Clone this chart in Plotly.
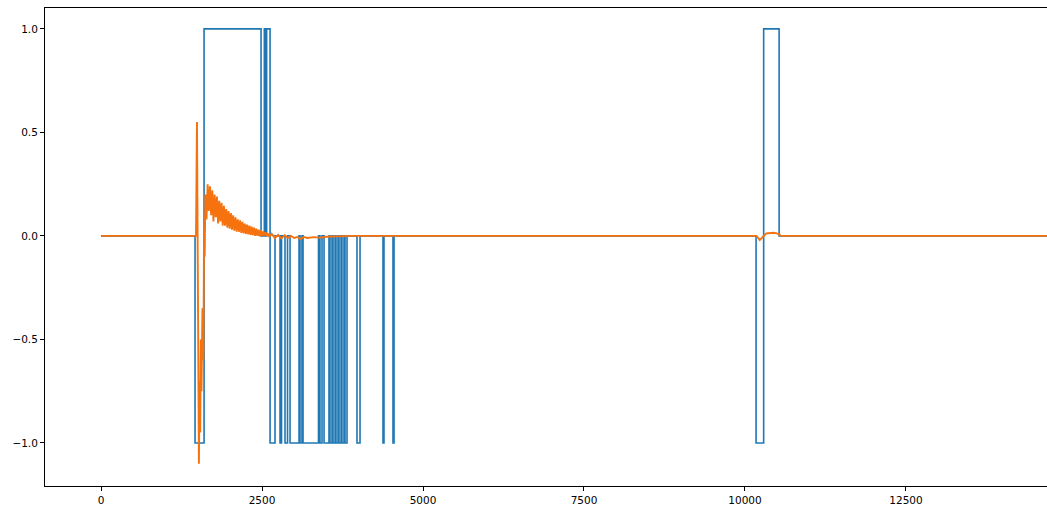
import plotly.graph_objects as go

# ---- data ----
# blue step signal: change points (x) and the level held after each one
blue_change_x = [0, 1460, 1600, 2485, 2536, 2556, 2572, 2625,
                 2702, 2780, 2803, 2857, 2896, 2935, 3075, 3090, 3121, 3137,
                 3377, 3400, 3432, 3463, 3540, 3556, 3587, 3603, 3634, 3649,
                 3680, 3696, 3727, 3742, 3773, 3789, 3820,
                 3975, 4022, 4379, 4394, 4534, 4550,
                 10172, 10290, 10530, 17400]
blue_level = [0, -1, 1, 0, 1, 0, 1, -1,
              0, -1, 0, -1, 0, -1, 0, -1, 0, -1,
              0, -1, 0, -1, 0, -1, 0, -1, 0, -1,
              0, -1, 0, -1, 0, -1, 0,
              -1, 0, -1, 0, -1, 0,
              -1, 1, 0, 0]

# orange response signal
orange_x = [0, 1460, 1475, 1490, 1500, 1510, 1520, 1530, 1540, 1550, 1560,
            1575, 1590, 1600, 1610,
            1620, 1638, 1656, 1674, 1692, 1710, 1728, 1746, 1764, 1782,
            1800, 1818, 1836, 1854, 1872, 1890, 1908, 1926, 1944, 1962,
            1980, 1998, 2016, 2034, 2052, 2070, 2088, 2106, 2124, 2142,
            2160, 2178, 2196, 2214, 2232, 2250, 2268, 2286, 2304, 2322,
            2340, 2358, 2376, 2394, 2412, 2430, 2448, 2466, 2484, 2502,
            2520, 2538, 2556, 2574, 2592, 2610,
            2650, 2700, 2750, 2800, 2850, 2900, 2950, 3000, 3050, 3100,
            3150, 3200, 3300, 3400, 3500, 3600, 3700, 3870,
            10100, 10180, 10230, 10280, 10330, 10450, 10520, 10560, 17400]
orange_y = [0, 0, 0, 0.55, -0.2, -0.8, -1.1, -0.7, -0.95, -0.5, -0.75,
            -0.35, -0.6, 0.05, -0.1,
            0.2, 0.08, 0.25, 0.12, 0.24, 0.10, 0.22, 0.07, 0.20, 0.09,
            0.19, 0.06, 0.17, 0.07, 0.16, 0.05, 0.145, 0.05, 0.13, 0.04,
            0.12, 0.035, 0.11, 0.03, 0.10, 0.025, 0.09, 0.02, 0.08, 0.02,
            0.075, 0.015, 0.068, 0.012, 0.06, 0.01, 0.055, 0.008, 0.05, 0.005,
            0.045, 0.004, 0.04, 0.0, 0.035, 0.0, 0.03, -0.002, 0.028, 0.0,
            0.022, 0.002, 0.018, 0.0, 0.012, -0.005,
            0.01, -0.01, 0.005, -0.012, 0.003, -0.01, 0.0, -0.01, -0.005, -0.015,
            -0.005, -0.01, -0.006, -0.008, -0.004, -0.003, -0.002, 0.0,
            0, 0, -0.02, -0.005, 0.012, 0.015, 0.01, 0.0, 0]

y_ticks = [-1.0, -0.5, 0.0, 0.5, 1.0]
y_tick_labels = ["\u22121.0", "\u22120.5", "0.0", "0.5", "1.0"]
x_ticks = [0, 2500, 5000, 7500, 10000, 12500]
x_tick_labels = ["0", "2500", "5000", "7500", "10000", "12500"]

fig = go.Figure()
fig.add_trace(go.Scatter(x=blue_change_x, y=blue_level, mode="lines",
                         line=dict(color="#1f77b4", width=1.6, shape="hv"),
                         showlegend=False))
fig.add_trace(go.Scatter(x=orange_x, y=orange_y, mode="lines",
                         line=dict(color="#f5720f", width=1.9),
                         showlegend=False))

axis_common = dict(showgrid=False, zeroline=False, showline=True,
                   linecolor="#000000", linewidth=1, ticks="outside",
                   ticklen=4, tickwidth=1, tickcolor="#000000",
                   tickfont=dict(family="DejaVu Sans", size=10.5, color="#000000"))

fig.update_layout(
    width=1047, height=517,
    margin=dict(l=45, r=0, t=8, b=31),
    paper_bgcolor="white", plot_bgcolor="white",
    xaxis=dict(range=[-870, 14690], tickvals=x_ticks, ticktext=x_tick_labels,
               mirror=True, **axis_common),
    yaxis=dict(range=[-1.208, 1.101], tickvals=y_ticks, ticktext=y_tick_labels,
               mirror=False, **axis_common),
)

fig.write_html("out.html",
               config={"displayModeBar": False},
               post_script="document.body.style.margin='0';"
                           "document.body.style.overflow='hidden';")
